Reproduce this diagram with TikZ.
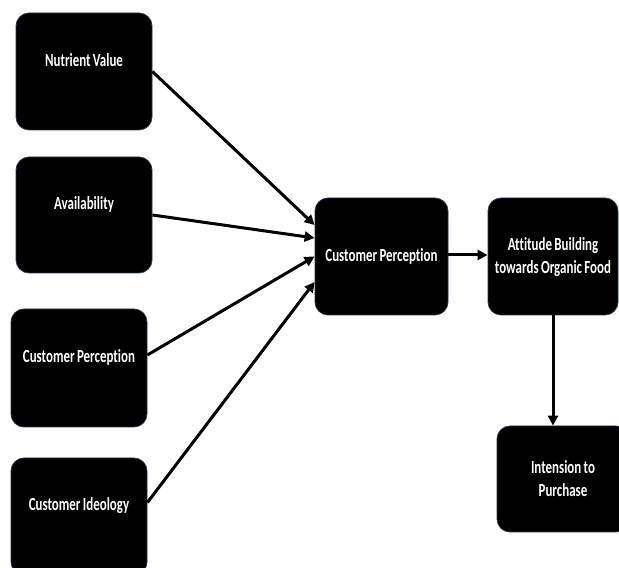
\documentclass[tikz,border=0pt]{standalone}
\usepackage{fontspec}
\newfontfamily\boxfont[FakeStretch=0.7,WordSpace=0.8,Ligatures={NoCommon,NoRare}]{Carlito}
\usetikzlibrary{arrows.meta}
\definecolor{edgeblue}{RGB}{40,55,75}
\tikzset{
  box/.style={draw=edgeblue, line width=0.8pt, fill=black, rounded corners=13pt, inner sep=0pt},
  txt/.style={text=white, font=\boxfont\bfseries\fontsize{18.5}{23}\selectfont, align=center, inner sep=0pt},
  conn/.style={line width=3pt, -{Triangle[length=10pt,width=10pt]}}
}
\begin{document}
\begin{tikzpicture}[x=1pt,y=1pt]
\clip (0,0) rectangle (619,568);
\fill[white] (0,0) rectangle (619,568);
% left column boxes
\node[box, minimum width=136pt, minimum height=117pt] (n1) at (84,496.5) {};
\node[txt] (n1t) at ([yshift=11pt]n1.center) {Nutrient Value};
\node[box, minimum width=136pt, minimum height=116pt] (n2) at (84,353) {};
\node[txt] (n2t) at ([yshift=11pt]n2.center) {Availability};
\node[box, minimum width=136pt, minimum height=118pt] (n3) at (79,200) {};
\node[txt] (n3t) at ([yshift=11pt]n3.center) {Customer Perception};
\node[box, minimum width=136pt, minimum height=117pt] (n4) at (79,51.5) {};
\node[txt] (n4t) at ([yshift=11pt]n4.center) {Customer Ideology};
% middle and right
\node[box, minimum width=133pt, minimum height=117pt] (cp) at (381.5,311.5) {};
\node[txt] (cpt) at (cp.center) {Customer Perception};
\node[box, minimum width=130pt, minimum height=117pt] (att) at (553,311.5) {};
\node[txt] (attt) at ([yshift=-1pt]att.center) {Attitude Building\\towards Organic Food};
\node[box, minimum width=132pt, minimum height=106pt] (int) at (563,89) {};
\node[txt] (intt) at (int.center) {Intension to\\Purchase};
% connectors
\draw[conn] (n1.east) -- ([yshift=31.5pt]cp.west);
\draw[conn] (n2.east) -- ([yshift=18.5pt]cp.west);
\draw[conn] ([yshift=13pt]n3.east) -- ([yshift=0pt]cp.west);
\draw[conn] ([yshift=14pt]n4.east) -- ([yshift=-25.5pt]cp.west);
\draw[conn] ([yshift=1.5pt]cp.east) -- ([yshift=1.5pt]att.west);
\draw[conn] (att.south) -- (att.south |- int.north);
\end{tikzpicture}
\end{document}
